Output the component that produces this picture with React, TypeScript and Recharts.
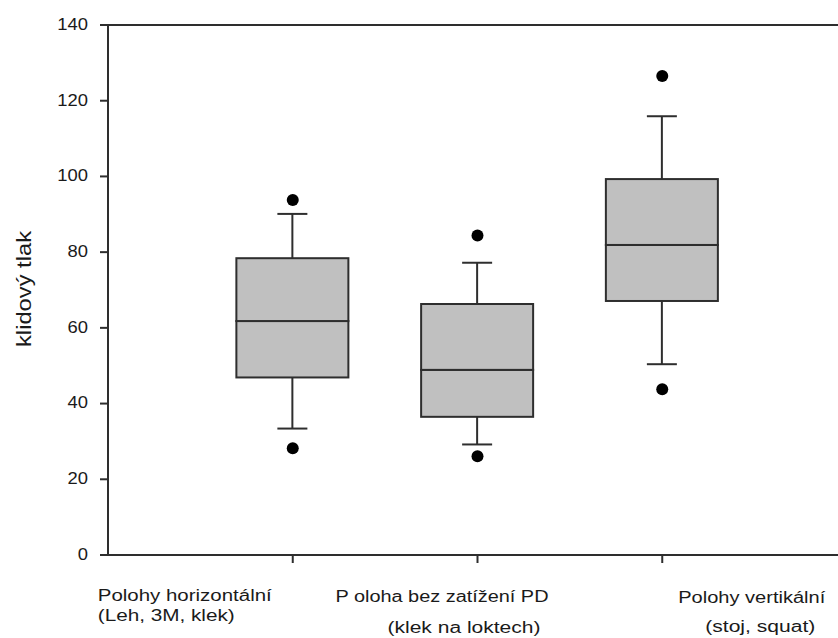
import { Bar, ComposedChart, Label, ReferenceLine, Scatter, XAxis, YAxis } from 'recharts';

// values
const positions = [1, 2, 3];
const whiskerLow = [33.4, 29.2, 50.4];
const q1 = [46.9, 36.5, 67.1];
const median = [61.8, 48.9, 81.9];
const q3 = [78.4, 66.3, 99.3];
const whiskerHigh = [90.1, 77.2, 115.9];
const outlierLow = [28.2, 26.1, 43.8];
const outlierHigh = [93.8, 84.4, 126.5];

const labelLine1 = ['Polohy horizontální', 'P oloha bez zatížení PD', 'Polohy vertikální'];
const labelLine2 = ['(Leh, 3M, klek)', '(klek na loktech)', '(stoj, squat)'];
const yTicks = [0, 20, 40, 60, 80, 100, 120, 140];

// where each two-line label sits relative to its tick (the source has them off-centre)
const labelLayout = [
  { dx1: -195, w1: 174, dx2: -195, w2: 137, dy1: 36, dy2: 56 },
  { dx1: -142, w1: 213, dx2: -90, w2: 153, dy1: 37, dy2: 68 },
  { dx1: 16, w1: 147, dx2: 43, w2: 110, dy1: 38, dy2: 67 },
];

const FONT = '"Liberation Sans", Arial, sans-serif';
const INK = '#2e2e2e';
const TEXT = '#1a1a1a';
const BOX_FILL = '#c0c0c0';

const rows = positions.map((pos, i) => ({
  pos,
  base: whiskerLow[i],
  lowWhisker: q1[i] - whiskerLow[i],
  lowBox: median[i] - q1[i],
  highBox: q3[i] - median[i],
  highWhisker: whiskerHigh[i] - q3[i],
  outLow: outlierLow[i],
  outHigh: outlierHigh[i],
}));

const CAP = 30;

function BoxPart(props: any) {
  const { x, y, width, height } = props;
  return <rect x={x} y={y} width={width} height={height} fill={BOX_FILL} stroke={INK} strokeWidth={2} />;
}

function LowWhisker(props: any) {
  const { x, y, width, height } = props;
  const cx = x + width / 2;
  return (
    <g stroke={INK} strokeWidth={2}>
      <line x1={cx} x2={cx} y1={y} y2={y + height} />
      <line x1={cx - CAP / 2} x2={cx + CAP / 2} y1={y + height} y2={y + height} />
    </g>
  );
}

function HighWhisker(props: any) {
  const { x, y, width, height } = props;
  const cx = x + width / 2;
  return (
    <g stroke={INK} strokeWidth={2}>
      <line x1={cx} x2={cx} y1={y} y2={y + height} />
      <line x1={cx - CAP / 2} x2={cx + CAP / 2} y1={y} y2={y} />
    </g>
  );
}

function Dot(props: any) {
  return <circle cx={props.cx} cy={props.cy} r={6} fill="#000" />;
}

function YTick(props: any) {
  const { x, y, payload } = props;
  return (
    <g transform={`translate(${x - 10},${y}) scale(1.15,1)`}>
      <text textAnchor="end" dy="0.3em" fontSize={16} fontFamily={FONT} fill={TEXT}>
        {payload.value}
      </text>
    </g>
  );
}

function XTick(props: any) {
  const { x, y, payload } = props;
  const i = positions.indexOf(payload.value);
  if (i < 0) return <g />;
  const l = labelLayout[i];
  return (
    <g fontSize={16} fontFamily={FONT} fill={TEXT}>
      <text x={x + l.dx1} y={y + l.dy1} textLength={l.w1} lengthAdjust="spacingAndGlyphs">
        {labelLine1[i]}
      </text>
      <text x={x + l.dx2} y={y + l.dy2} textLength={l.w2} lengthAdjust="spacingAndGlyphs">
        {labelLine2[i]}
      </text>
    </g>
  );
}

export default function App() {
  return (
    <div
      style={{
        position: 'absolute',
        left: 0,
        top: 0,
        width: 838,
        height: 638,
        overflow: 'hidden',
        background: '#fff',
      }}
    >
      <ComposedChart width={847} height={638} data={rows} margin={{ top: 25, right: 0, bottom: 0, left: 0 }}>
        <XAxis
          dataKey="pos"
          type="number"
          domain={[0, 4]}
          ticks={positions}
          height={83}
          tickSize={8}
          axisLine={{ stroke: INK, strokeWidth: 2 }}
          tickLine={{ stroke: INK, strokeWidth: 2 }}
          tick={<XTick />}
          interval={0}
        />
        <YAxis
          type="number"
          domain={[0, 140]}
          ticks={yTicks}
          width={108}
          tickSize={8}
          axisLine={{ stroke: INK, strokeWidth: 2 }}
          tickLine={{ stroke: INK, strokeWidth: 2 }}
          tick={<YTick />}
          interval={0}
        >
          <Label
            content={() => (
              <text
                transform="translate(31,289) rotate(-90)"
                textAnchor="middle"
                fontSize={21}
                fontFamily={FONT}
                fill={TEXT}
                textLength={116}
                lengthAdjust="spacingAndGlyphs"
              >
                klidový tlak
              </text>
            )}
          />
        </YAxis>
        <ReferenceLine y={140} stroke={INK} strokeWidth={2} />
        <Bar dataKey="base" stackId="box" barSize={112} shape={() => <g />} isAnimationActive={false} />
        <Bar dataKey="lowWhisker" stackId="box" barSize={112} shape={<LowWhisker />} isAnimationActive={false} />
        <Bar dataKey="lowBox" stackId="box" barSize={112} shape={<BoxPart />} isAnimationActive={false} />
        <Bar dataKey="highBox" stackId="box" barSize={112} shape={<BoxPart />} isAnimationActive={false} />
        <Bar dataKey="highWhisker" stackId="box" barSize={112} shape={<HighWhisker />} isAnimationActive={false} />
        <Scatter dataKey="outLow" shape={<Dot />} isAnimationActive={false} />
        <Scatter dataKey="outHigh" shape={<Dot />} isAnimationActive={false} />
      </ComposedChart>
    </div>
  );
}
